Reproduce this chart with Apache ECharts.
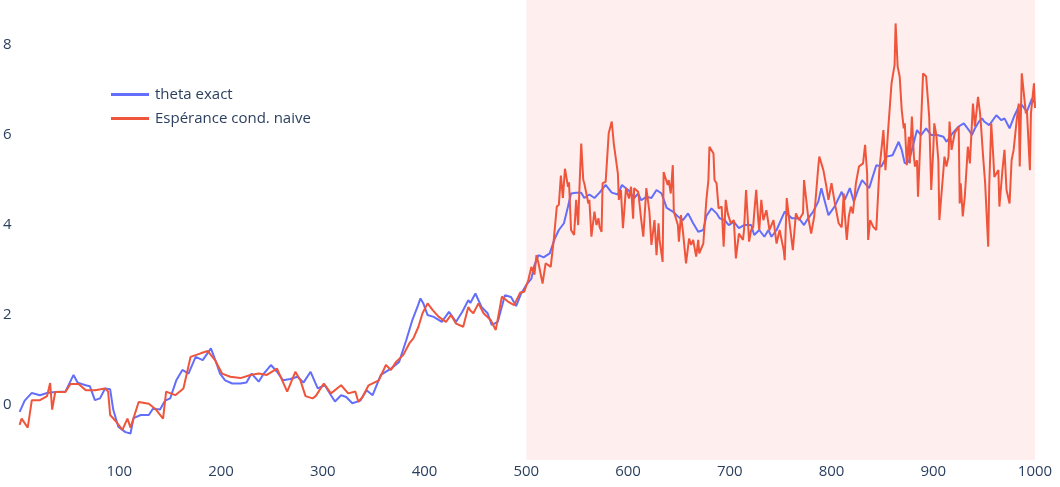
<!DOCTYPE html>
<html>
<head>
<meta charset="utf-8">
<script src="https://cdn.jsdelivr.net/npm/echarts@6/dist/echarts.min.js"></script>
<style>html,body{margin:0;padding:0;background:#fff}#c{width:1060px;height:487px}</style>
</head>
<body>
<div id="c"></div>
<script>
const thetaX = [2,7,14,22,29,37,47,55,59,67,71,76,81,86,91,94,99,106,111,114,121,129,133,140,145,150,156,162,168,175,182,190,195,199,204,211,219,225,230,237,242,249,255,261,268,275,281,288,295,302,308,312,318,323,329,337,343,349,357,367,375,382,388,393,396,399,403,409,417,424,431,437,443,445,450,456,462,466,472,479,485,490,495,500,505,508,512,517,523,528,532,537,541,544,549,554,557,562,567,572,578,584,590,594,601,606,610,613,618,623,628,633,638,644,649,654,659,664,669,674,677,682,687,690,695,699,704,709,714,721,724,729,734,738,741,746,751,754,761,768,773,777,782,787,790,793,797,803,810,813,818,822,826,830,837,844,849,854,860,866,869,872,876,879,884,888,893,898,904,910,913,919,925,930,935,938,941,945,948,950,955,962,967,970,975,980,984,987,992,997,1000];
const thetaY = [-0.15,0.1,0.27,0.22,0.27,0.29,0.3,0.67,0.5,0.44,0.42,0.11,0.15,0.37,0.35,-0.1,-0.48,-0.6,-0.63,-0.29,-0.22,-0.22,-0.08,-0.1,0.1,0.15,0.55,0.78,0.7,1.07,1.0,1.26,0.96,0.7,0.55,0.48,0.48,0.5,0.7,0.52,0.7,0.89,0.74,0.55,0.58,0.63,0.5,0.74,0.37,0.44,0.22,0.08,0.22,0.18,0.04,0.1,0.33,0.22,0.67,0.81,0.96,1.44,1.89,2.18,2.37,2.25,2.0,1.96,1.85,2.07,1.85,2.07,2.33,2.27,2.48,2.18,2.04,1.78,1.85,2.44,2.4,2.2,2.48,2.67,2.81,3.11,3.33,3.28,3.37,3.7,3.89,4.04,4.41,4.7,4.72,4.72,4.6,4.68,4.6,4.72,4.89,4.72,4.68,4.89,4.76,4.6,4.7,4.55,4.63,4.6,4.78,4.7,4.38,4.3,4.19,4.11,4.26,4.04,3.85,3.89,4.2,4.37,4.26,4.15,4.11,4.0,4.07,3.93,4.0,4.0,3.78,3.89,3.74,3.89,3.74,3.89,4.15,4.3,4.15,4.15,4.0,4.15,4.3,4.52,4.82,4.56,4.22,4.41,4.74,4.56,4.82,4.52,4.78,5.0,4.82,5.33,5.3,5.52,5.55,5.85,5.67,5.37,5.41,5.67,6.11,6.0,6.15,6.0,6.0,5.96,5.85,6.04,6.19,6.26,6.11,6.0,6.15,6.3,6.37,6.3,6.22,6.44,6.33,6.37,6.15,6.44,6.63,6.67,6.52,6.81,6.7];

const naiveX = [2,4,10,14,22,29,32,34,37,47,52,60,67,76,86,89,91,97,103,108,111,119,129,136,143,146,155,163,170,180,187,194,201,209,219,229,237,245,255,265,273,278,283,290,293,301,308,318,325,332,335,339,345,355,362,367,372,379,385,389,394,398,403,408,414,421,426,431,438,443,445,448,453,458,465,470,476,482,488,494,498,502,505,508,510,512,516,519,524,527,530,532,534,536,538,541,542,544,547,549,551,552,554,556,557,561,562,564,567,569,571,572,574,575,578,580,581,584,586,590,591,593,595,598,601,603,605,606,610,613,615,618,621,623,626,628,630,631,634,635,639,640,642,644,645,649,650,652,654,657,660,662,664,667,669,670,674,677,679,680,684,685,687,689,692,694,695,696,698,701,704,706,709,713,714,716,719,721,723,724,726,728,729,731,733,736,739,743,746,749,753,754,756,759,762,765,768,772,773,777,780,783,787,788,792,795,797,800,803,807,810,812,813,815,817,819,821,824,827,831,833,835,836,838,841,844,847,851,853,856,859,862,863,865,867,869,871,872,874,876,877,879,881,882,884,885,886,890,893,896,898,900,901,903,905,906,910,911,913,915,916,918,921,925,926,927,929,931,934,936,939,941,944,946,947,949,951,954,955,957,959,960,964,965,968,970,972,975,977,979,982,984,985,987,989,991,992,995,996,999,1000];
const naiveY = [-0.44,-0.3,-0.5,0.11,0.11,0.2,0.49,-0.1,0.29,0.29,0.47,0.47,0.33,0.33,0.37,0.3,-0.22,-0.37,-0.55,-0.3,-0.5,0.07,0.03,-0.1,-0.3,0.3,0.22,0.37,1.07,1.15,1.2,1.0,0.7,0.63,0.6,0.67,0.7,0.67,0.81,0.3,0.74,0.55,0.2,0.15,0.2,0.48,0.26,0.44,0.26,0.3,0.07,0.18,0.44,0.55,0.89,0.78,0.96,1.11,1.37,1.48,1.74,2.04,2.26,2.11,1.96,1.85,2.0,1.81,1.74,2.18,2.1,2.04,2.26,2.04,1.89,1.67,2.41,2.3,2.22,2.5,2.52,2.78,3.07,2.9,3.33,3.15,2.7,3.15,3.07,3.67,4.41,4.45,5.1,4.6,5.25,4.85,4.95,3.89,3.78,4.56,4.0,4.67,5.81,5.0,4.93,4.48,4.56,3.74,4.3,4.0,4.15,3.96,3.85,4.93,4.96,5.67,6.04,6.3,5.81,5.15,4.56,4.78,3.93,4.82,4.59,4.85,4.14,4.82,4.74,4.11,3.74,4.82,4.3,3.56,4.11,3.33,4.04,3.67,3.18,5.18,4.89,5.0,4.7,5.33,4.3,4.0,3.63,4.22,3.85,3.15,3.7,3.56,3.67,3.3,3.67,3.37,3.59,4.56,5.0,5.74,5.59,5.0,4.93,4.37,4.41,3.52,4.04,4.56,4.26,4.04,4.11,3.26,3.81,3.67,3.89,4.78,3.63,3.89,3.96,4.26,4.78,4.11,3.89,4.56,4.11,4.33,3.89,4.11,3.59,3.89,3.44,3.22,4.6,4.0,3.44,4.26,4.11,4.26,5.0,4.19,3.81,4.19,5.3,5.52,5.22,4.85,4.56,4.93,4.52,4.04,3.95,4.7,4.26,3.67,4.19,4.41,4.26,4.93,5.3,5.37,5.78,5.15,3.67,4.11,3.96,3.89,5.22,6.11,5.22,6.22,7.15,7.56,8.48,7.52,7.3,6.56,6.15,6.26,5.33,5.96,5.37,6.41,5.52,5.3,5.44,4.63,5.15,7.37,7.3,6.41,4.78,5.67,6.26,6.0,5.44,4.11,5.22,5.52,5.3,5.52,6.3,5.67,6.04,6.19,4.48,4.93,4.19,4.63,5.74,5.37,6.7,6.19,6.85,6.48,6.19,5.52,4.93,3.52,4.85,6.26,5.52,5.07,5.22,4.41,5.22,5.67,4.78,4.48,5.44,5.67,6.33,6.7,5.3,7.37,6.93,6.48,6.56,5.22,6.48,7.15,6.6];

const xTicks = [100,200,300,400,500,600,700,800,900,1000];
const yTicks = [0,2,4,6,8];
const shadeRange = [500, 1000];
const seriesNames = ['theta exact', 'Espérance cond. naive'];

const zip = (xs, ys) => xs.map((x, i) => [x, ys[i]]);
const font = '"Open Sans", "Noto Sans", sans-serif';
const chart = echarts.init(document.getElementById('c'), null, {renderer: 'canvas'});
chart.setOption({
  animation: false,
  backgroundColor: '#fff',
  grid: {left: 17.4, right: 25, top: 0, bottom: 27, containLabel: false},
  legend: {
    orient: 'vertical', left: 106, top: 82,
    itemWidth: 38, itemHeight: 3, itemGap: 9, icon: 'rect',
    textStyle: {fontFamily: font, fontSize: 15, color: '#2a3f5f', padding: [0,0,0,1]},
    data: seriesNames
  },
  xAxis: {
    type: 'value', min: 0, max: 1000,
    axisLine: {show: false}, axisTick: {show: false}, splitLine: {show: false},
    axisLabel: {customValues: xTicks, formatter: v => String(v), fontFamily: font, fontSize: 15, color: '#2a3f5f', margin: 4}
  },
  yAxis: {
    type: 'value', min: -1.22, max: 9.0,
    axisLine: {show: false}, axisTick: {show: false}, splitLine: {show: false},
    axisLabel: {customValues: yTicks, formatter: v => String(v), fontFamily: font, fontSize: 15, color: '#2a3f5f', margin: 6}
  },
  series: [
    {
      name: seriesNames[0], type: 'line', showSymbol: false, symbol: 'none',
      data: zip(thetaX, thetaY),
      lineStyle: {color: '#636efa', width: 2}, itemStyle: {color: '#636efa'},
      markArea: {silent: true, itemStyle: {color: 'rgba(255,0,0,0.065)'}, data: [[{xAxis: shadeRange[0]}, {xAxis: shadeRange[1]}]]}
    },
    {
      name: seriesNames[1], type: 'line', showSymbol: false, symbol: 'none',
      data: zip(naiveX, naiveY),
      lineStyle: {color: '#ef553b', width: 2}, itemStyle: {color: '#ef553b'}
    }
  ]
});
</script>
</body>
</html>
